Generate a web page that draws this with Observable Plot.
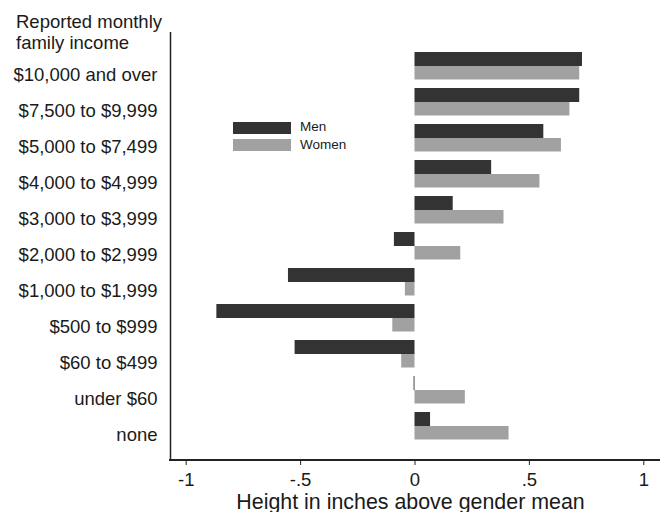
<!DOCTYPE html>
<html>
<head>
<meta charset="utf-8">
<script src="https://cdn.jsdelivr.net/npm/d3@7"></script>
<script src="https://cdn.jsdelivr.net/npm/@observablehq/plot@0.6"></script>
<style>
  html, body { margin: 0; padding: 0; background: #fff; }
  #wrap { position: relative; width: 667px; height: 512px; overflow: hidden; font-family: Arial, "Liberation Sans", Helvetica, sans-serif; color: #1a1a1a; }
  #title { position: absolute; left: 16px; top: 12px; font-size: 18.5px; line-height: 20.5px; }
  .leg { position: absolute; left: 233px; width: 58px; height: 12px; }
  .legt { position: absolute; left: 300px; font-size: 13.5px; line-height: 14px; }
  #baseline { position: absolute; left: 169px; top: 459px; width: 491px; height: 1.6px; background: #222; z-index: 5; }
</style>
</head>
<body>
<div id="wrap">
  <div id="chart"></div>
  <div id="baseline"></div>
  <div id="title">Reported monthly<br>family income</div>
  <div class="leg" style="top:122px;background:#333333"></div>
  <div class="legt" style="top:120px">Men</div>
  <div class="leg" style="top:139px;background:#a1a1a1"></div>
  <div class="legt" style="top:138px">Women</div>
</div>
<script>
const categories = [
  "$10,000 and over",
  "$7,500 to $9,999",
  "$5,000 to $7,499",
  "$4,000 to $4,999",
  "$3,000 to $3,999",
  "$2,000 to $2,999",
  "$1,000 to $1,999",
  "$500 to $999",
  "$60 to $499",
  "under $60",
  "none"
];
const men   = [0.732, 0.720, 0.563, 0.335, 0.167, -0.090, -0.553, -0.866, -0.524, -0.004, 0.068];
const women = [0.720, 0.677, 0.640, 0.546, 0.389, 0.200, -0.042, -0.097, -0.058, 0.220, 0.411];
const xTicks = [-1, -0.5, 0, 0.5, 1];
const xTickLabels = ["-1", "-.5", "0", ".5", "1"];
const xLabel = "Height in inches above gender mean";

const menData = categories.map((c, i) => ({income: c, value: men[i]}));
const womenData = categories.map((c, i) => ({income: c, value: women[i]}));

const xMin = -1.0686, xMax = 1.073;

const chart = Plot.plot({
  width: 667,
  height: 512,
  marginLeft: 170,
  marginRight: 7,
  marginTop: 32,
  marginBottom: 52,
  style: {fontFamily: 'Arial, "Liberation Sans", Helvetica, sans-serif', color: "#1a1a1a", background: "#fff"},
  x: {domain: [xMin, xMax], range: [170, 660]},
  y: {domain: categories, range: [47.7, 444.3], padding: 0},
  marks: [
    Plot.barX(menData, {x: "value", y: "income", fill: "#333333", insetTop: 4, insetBottom: 18}),
    Plot.barX(womenData, {x: "value", y: "income", fill: "#a1a1a1", insetTop: 18, insetBottom: 4.5}),
    Plot.axisY({tickSize: 0, tickPadding: 13, fontSize: 18.5, dy: 8.5, label: null}),
    Plot.axisX({ticks: xTicks, tickFormat: (d) => xTickLabels[xTicks.indexOf(d)], tickSize: 5, tickPadding: 7, fontSize: 18.5, label: null, stroke: "#222"}),
    Plot.ruleX([xMin], {stroke: "#222", strokeWidth: 1.5}),
    Plot.text([xLabel], {frameAnchor: "bottom", dx: -5, dy: 48, lineAnchor: "bottom", fontSize: 21.4, fill: "#1a1a1a"})
  ]
});
document.getElementById("chart").appendChild(chart);
</script>
</body>
</html>
